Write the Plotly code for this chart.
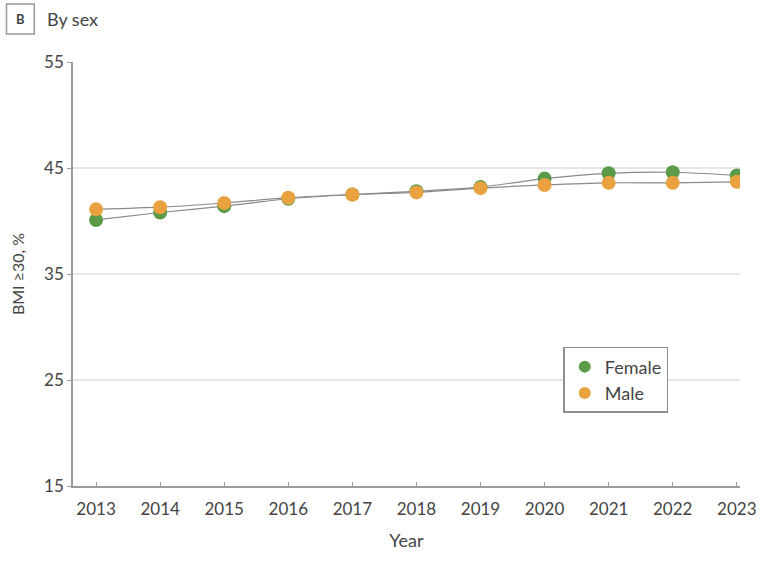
import plotly.graph_objects as go

years = [2013, 2014, 2015, 2016, 2017, 2018, 2019, 2020, 2021, 2022, 2023]
female = [40.1, 40.8, 41.4, 42.1, 42.5, 42.8, 43.2, 44.0, 44.5, 44.6, 44.3]
male = [41.1, 41.3, 41.7, 42.2, 42.5, 42.7, 43.1, 43.4, 43.6, 43.6, 43.7]
y_ticks = [15, 25, 35, 45, 55]
x_ticks = years

FONT = "Lato, Open Sans, sans-serif"

fig = go.Figure()
series = [("Female", female, "#5b9a48"), ("Male", male, "#e9a23f")]
for name, vals, col in series:
    fig.add_trace(go.Scatter(
        x=years, y=vals, mode="lines", showlegend=False, hoverinfo="skip",
        line=dict(color="#8a8a8a", width=1.2, shape="spline", smoothing=0.6),
    ))
for name, vals, col in series:
    fig.add_trace(go.Scatter(
        x=years, y=vals, name=name, mode="markers",
        marker=dict(color=col, size=14, line=dict(width=0)),
    ))

fig.update_layout(
    width=768, height=569,
    margin=dict(l=73, r=23, t=62, b=83),
    paper_bgcolor="white", plot_bgcolor="white",
    font=dict(family=FONT, size=17, color="#444"),
    showlegend=True,
    legend=dict(x=0.735, y=0.328, xanchor="left", yanchor="top",
                bordercolor="#8f8f8f", borderwidth=1.5, bgcolor="white",
                font=dict(size=18, color="#444"), itemsizing="constant",
                tracegroupgap=0, entrywidth=112, entrywidthmode="pixels"),
    xaxis=dict(range=[2012.64, 2023.05], tickvals=x_ticks, ticktext=[str(y) for y in x_ticks],
               showgrid=False, showline=True, linecolor="#9a9a9a", linewidth=1.5,
               ticks="inside", ticklen=4, tickcolor="#9a9a9a", zeroline=False,
               ticklabelstandoff=7,
               title=dict(text="Year", font=dict(size=18, color="#444"), standoff=16)),
    yaxis=dict(range=[15, 55], tickvals=y_ticks, showgrid=True, gridcolor="#e6e6e6", gridwidth=1.5,
               showline=True, linecolor="#9a9a9a", linewidth=1.5, zeroline=False,
               ticks="outside", ticklen=4, tickcolor="#9a9a9a",
               title=dict(text="BMI ≥30, %", font=dict(size=16, color="#444"), standoff=16)),
)

fig.add_shape(type="rect", xref="paper", yref="paper",
              x0=-0.0997, x1=-0.058, y0=1.066, y1=1.137,
              line=dict(color="#999", width=1.5), fillcolor="white")
fig.add_annotation(text="<b>B</b>", xref="paper", yref="paper", x=-0.0789, y=1.101,
                   showarrow=False, font=dict(size=13, color="#444"), xanchor="center", yanchor="middle")
fig.add_annotation(text="By sex", xref="paper", yref="paper", x=-0.0417, y=1.101,
                   showarrow=False, font=dict(size=18, color="#444"), xanchor="left", yanchor="middle")

fig.write_html("out.html")
